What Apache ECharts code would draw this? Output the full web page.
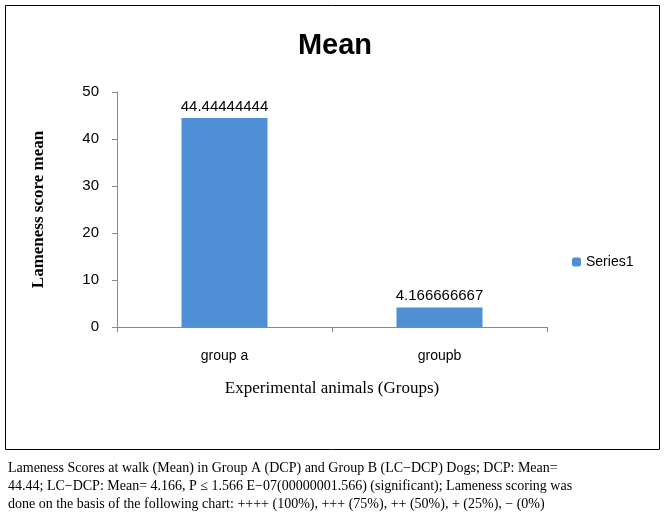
<!DOCTYPE html>
<html lang="en">
<head>
    <meta charset="UTF-8">
    <title>Mean</title>
    <script src="https://cdn.jsdelivr.net/npm/echarts@6/dist/echarts.min.js"></script>
    <style>
        body { margin: 0; background: #fff; }
        #chart { width: 666px; height: 530px; }
    </style>
</head>
<body>
<div id="chart"></div>
<script>
    var categories = ['group a', 'groupb'];
    var meanValues = [44.44444444, 4.166666667];
    var valueLabels = ['44.44444444', '4.166666667'];
    var seriesName = 'Series1';
    var caption = [
        'Lameness Scores at walk (Mean) in Group A (DCP) and Group B (LC\u2212DCP) Dogs; DCP: Mean=',
        '44.44; LC\u2212DCP: Mean= 4.166, P \u2264 1.566 E\u221207(00000001.566) (significant); Lameness scoring was',
        'done on the basis of the following chart: ++++ (100%), +++ (75%), ++ (50%), + (25%), \u2212 (0%)'
    ];

    var myChart = echarts.init(document.getElementById('chart'));
    myChart.setOption({
        animation: false,
        title: {
            text: 'Mean',
            left: 330, top: 26, textAlign: 'center',
            textStyle: { fontFamily: 'Liberation Sans', fontSize: 29, fontWeight: 'bold', color: '#000' }
        },
        legend: {
            data: [seriesName], orient: 'vertical',
            left: 567, top: 250, itemWidth: 9, itemHeight: 9, itemGap: 4,
            textStyle: { fontFamily: 'Liberation Sans', fontSize: 14, color: '#000' }
        },
        grid: { left: 117, top: 92, width: 430, height: 235 },
        xAxis: {
            type: 'category', data: categories,
            name: 'Experimental animals (Groups)', nameLocation: 'middle', nameGap: 53,
            nameTextStyle: { fontFamily: 'Liberation Serif', fontSize: 17, color: '#000' },
            axisLine: { lineStyle: { color: '#888' } },
            axisTick: { show: true, length: 5, lineStyle: { color: '#888' } },
            axisLabel: { margin: 22, fontFamily: 'Liberation Sans', fontSize: 14, color: '#000' }
        },
        yAxis: {
            type: 'value', min: 0, max: 50, interval: 10,
            name: 'Lameness score mean', nameLocation: 'middle', nameGap: 70,
            nameTextStyle: { fontFamily: 'Liberation Serif', fontSize: 17, color: '#000', fontWeight: 'bold' },
            axisLine: { show: true, lineStyle: { color: '#888' } },
            axisTick: { show: true, length: 5, lineStyle: { color: '#888' } },
            splitLine: { show: false },
            axisLabel: { margin: 18, fontFamily: 'Liberation Sans', fontSize: 15, color: '#000' }
        },
        series: [{
            name: seriesName, type: 'bar', data: meanValues, barWidth: 86,
            itemStyle: { color: '#4f8fd6' },
            label: {
                show: true, position: 'top', distance: 4,
                fontFamily: 'Liberation Sans', fontSize: 15, color: '#000',
                formatter: function (p) { return valueLabels[p.dataIndex]; }
            }
        }],
        graphic: [
            {
                type: 'rect', shape: { x: 5.5, y: 5.5, width: 654, height: 444 },
                style: { fill: 'none', stroke: '#000', lineWidth: 1 }
            },
            {
                type: 'text', left: 8, top: 459,
                style: {
                    text: caption.join('\n'), lineHeight: 18,
                    font: '14px "Liberation Serif"', fill: '#000'
                }
            }
        ]
    });
</script>
</body>
</html>
